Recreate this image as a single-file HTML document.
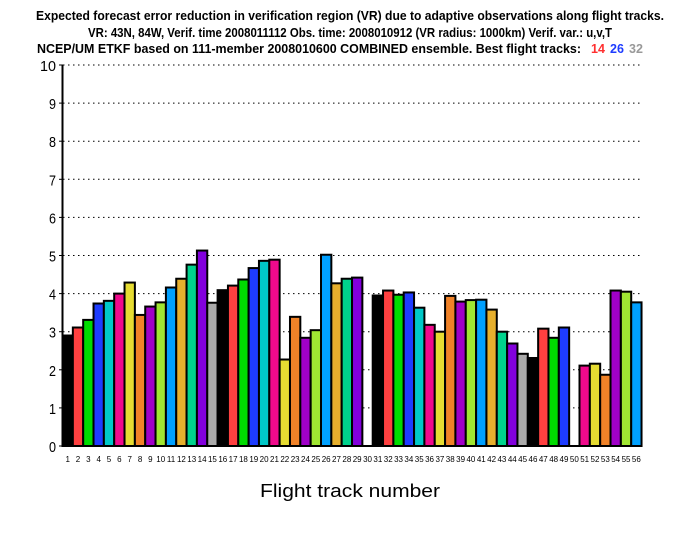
<!DOCTYPE html>
<html><head><meta charset="utf-8"><style>
body{margin:0;background:#fff;width:700px;height:540px;overflow:hidden}
svg{display:block}
text{font-family:"Liberation Sans Narrow","Liberation Sans",sans-serif}
</style></head><body>
<svg id="s" width="700" height="540" xmlns="http://www.w3.org/2000/svg">
<text x="350" y="20" text-anchor="middle" font-size="12.5" font-weight="bold" textLength="628" lengthAdjust="spacingAndGlyphs">Expected forecast error reduction in verification region (VR) due to adaptive observations along flight tracks.</text>
<text x="350" y="37" text-anchor="middle" font-size="12.5" font-weight="bold" textLength="524" lengthAdjust="spacingAndGlyphs">VR: 43N, 84W, Verif. time 2008011112 Obs. time: 2008010912 (VR radius: 1000km)  Verif. var.: u,v,T</text>
<text x="37" y="53" font-size="12.5" font-weight="bold" textLength="544" lengthAdjust="spacingAndGlyphs">NCEP/UM ETKF based on 111-member 2008010600 COMBINED ensemble.  Best flight tracks:</text>
<text x="591" y="53" font-size="12.5" font-weight="bold" fill="#ff3030">14</text>
<text x="610" y="53" font-size="12.5" font-weight="bold" fill="#1e3cff">26</text>
<text x="629" y="53" font-size="12.5" font-weight="bold" fill="#999">32</text>
<g id="g"></g>
<text x="350" y="497" text-anchor="middle" font-size="18" textLength="180" lengthAdjust="spacingAndGlyphs">Flight track number</text>
</svg>
<script>
var v=[2.90,3.11,3.31,3.74,3.81,4.0,4.29,3.44,3.66,3.77,4.16,4.39,4.76,5.13,3.76,4.09,4.21,4.37,4.67,4.86,4.89,2.27,3.39,2.84,3.04,5.02,4.27,4.39,4.42,0,3.95,4.08,3.97,4.03,3.63,3.18,3.0,3.94,3.79,3.83,3.84,3.58,3.0,2.69,2.42,2.31,3.08,2.84,3.11,0,2.11,2.16,1.87,4.08,4.05,3.77];
var c=["#000","#ff4040","#00dc00","#1e3cff","#00c8c8","#f00a8c","#e6dc32","#f08228","#a000c8","#a0e632","#00a0ff","#e6af2d","#00d28c","#8200dc","#aaa"];
var h="",y0=446,u=38.1,x0=62.5,w=10.34;
for(var i=0;i<=10;i++){var y=y0-i*u;
 if(i>0)h+='<line x1="63" x2="640" y1="'+y+'" y2="'+y+'" stroke="#000" stroke-width="1" stroke-dasharray="1.5 3.5"/>';
 h+='<line x1="59" x2="63" y1="'+y+'" y2="'+y+'" stroke="#000"/>';
 var tl=(i==10)?' textLength="16" lengthAdjust="spacingAndGlyphs"':' textLength="7" lengthAdjust="spacingAndGlyphs"';
 h+='<text x="56" y="'+(y+6)+'" text-anchor="end" font-size="15"'+tl+'>'+i+'</text>';}
for(var k=0;k<56;k++){var x=x0+k*w;
 if(v[k]>0){var t=y0-v[k]*u;h+='<rect x="'+x+'" y="'+t+'" width="'+w+'" height="'+(y0-t)+'" fill="'+c[k%15]+'" stroke="#000" stroke-width="2"/>';}
 h+='<text x="'+(x+w/2)+'" y="462" text-anchor="middle" font-size="8">'+(k+1)+'</text>';}
h+='<line x1="62.5" x2="62.5" y1="65" y2="447" stroke="#000" stroke-width="2"/>';
h+='<line x1="62" x2="641" y1="446" y2="446" stroke="#000" stroke-width="2"/>';
document.getElementById("g").innerHTML=h;
</script>
</body></html>
